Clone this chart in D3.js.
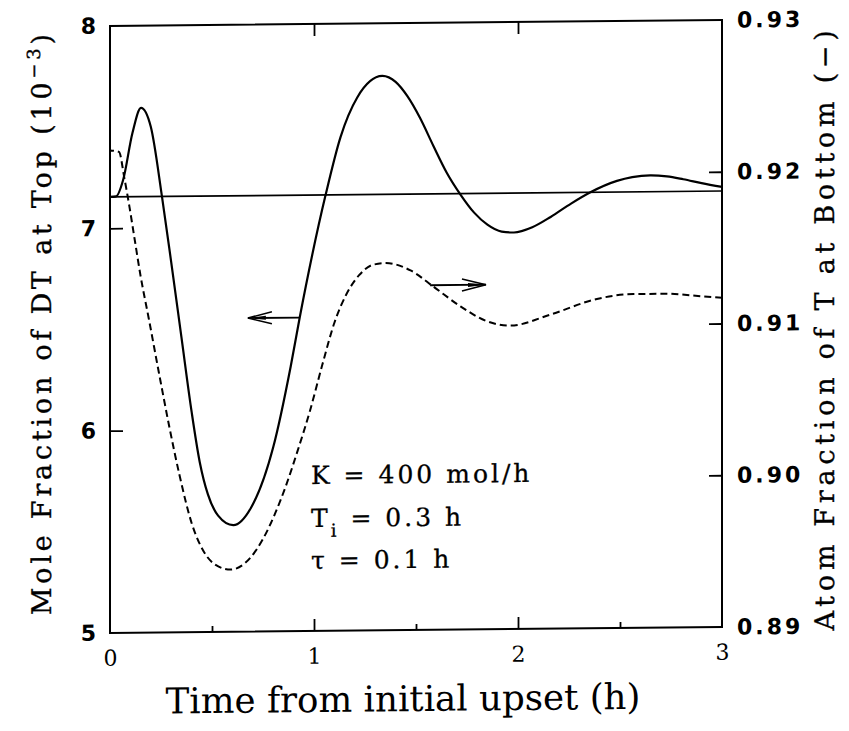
<!DOCTYPE html>
<html><head><meta charset="utf-8">
<script src="https://cdn.jsdelivr.net/npm/d3@7"></script>
<style>body{margin:0;background:#fff}</style>
</head><body><svg id="c" width="849" height="731"></svg>
<script>
// ---- data ----
// solid curve: mole fraction of DT at top (10^-3), left axis
const timeTop = [0, 0.03, 0.064, 0.11, 0.152, 0.20, 0.255, 0.30, 0.35, 0.40, 0.44, 0.48, 0.53, 0.605, 0.69, 0.80, 0.886, 0.93, 1.057, 1.13, 1.212, 1.335, 1.40, 1.457, 1.52, 1.586, 1.65, 1.718, 1.785, 1.85, 1.92, 1.98, 2.07, 2.16, 2.26, 2.355, 2.485, 2.56, 2.648, 2.73, 2.81, 2.9, 3.0];
const dtTop = [7.155, 7.158, 7.237, 7.47, 7.594, 7.50, 7.153, 6.83, 6.46, 6.09, 5.84, 5.68, 5.575, 5.527, 5.61, 5.91, 6.31, 6.55, 7.155, 7.44, 7.635, 7.74, 7.71, 7.64, 7.53, 7.39, 7.26, 7.15, 7.06, 7.00, 6.965, 6.96, 6.985, 7.035, 7.10, 7.155, 7.21, 7.228, 7.236, 7.23, 7.215, 7.195, 7.175];
// dashed curve: atom fraction of T at bottom, right axis (first two points are the initial step)
const timeBottom = [0, 0, 0.044, 0.07, 0.095, 0.12, 0.15, 0.19, 0.24, 0.29, 0.34, 0.40, 0.46, 0.52, 0.592, 0.69, 0.75, 0.804, 0.86, 0.92, 0.98, 1.04, 1.10, 1.16, 1.22, 1.29, 1.351, 1.473, 1.587, 1.718, 1.848, 1.963, 2.159, 2.387, 2.566, 2.713, 2.909, 3.0];
const tBottom = [0.9187, 0.9218, 0.9217, 0.9200, 0.9181, 0.9160, 0.9135, 0.9107, 0.9071, 0.9036, 0.9004, 0.8972, 0.8953, 0.8944, 0.8941, 0.8949, 0.8961, 0.8976, 0.8995, 0.9019, 0.9045, 0.9075, 0.9103, 0.9122, 0.9134, 0.9141, 0.9142, 0.9137, 0.9126, 0.9113, 0.9103, 0.9100, 0.9107, 0.9117, 0.9120, 0.9120, 0.9118, 0.9117];
// initial steady-state reference line (left axis)
const initialLevel = 7.155;
// tick values and labels
const xTickLabels = [0, 1, 2, 3];
const xMajorInner = [1, 2];
const xMinorInner = [0.5, 1.5, 2.5];
const leftTickLabels = [5, 6, 7, 8];
const leftInner = [6, 7];
const rightTickLabels = [0.89, 0.90, 0.91, 0.92, 0.93];
const rightInner = [0.90, 0.91, 0.92];
// arrows pointing to the axis of each curve (time from, time to, value)
const arrowLeft = [0.93, 0.676, 6.55];
const arrowRight = [1.569, 1.843, 0.91271];
const noteLines = ["K = 400 mol/h", "T|i| = 0.3 h", "\u03C4 = 0.1 h"];

// ---- drawing ----
const W = 849, H = 731;
const m = {l: 110, r: 722, t: 26, b: 633};
const x = d3.scaleLinear().domain([0, 3]).range([m.l, m.r]);
const yL = d3.scaleLinear().domain([5, 8]).range([m.b, m.t]);
const yR = d3.scaleLinear().domain([0.89, 0.93]).range([m.b, m.t]);

const svg = d3.select('#c');
svg.append('rect').attr('width', W).attr('height', H).attr('fill', '#fff');
const g = svg.append('g')
  .attr('transform', `translate(${m.l},0) skewY(-0.56) translate(${-m.l},0)`);

function fit(sel, w) {
  const l = sel.node().getComputedTextLength();
  const fs = parseFloat(sel.attr('font-size'));
  sel.attr('font-size', fs * w / l);
}
function fitSpacing(sel, w) {
  sel.style('letter-spacing', '0px');
  const l = sel.node().getComputedTextLength();
  const n = sel.node().textContent.length;
  sel.style('letter-spacing', ((w - l) / n) + 'px');
}

// inner ticks
function ticks(axis, tr, size) {
  const a = g.append('g').attr('transform', tr).call(axis.tickSize(size).tickFormat(''));
  a.select('.domain').remove();
  a.selectAll('line').attr('stroke', '#000').attr('stroke-width', 1.8);
}
ticks(d3.axisBottom(x).tickValues(xMajorInner), `translate(0,${m.b})`, -12);
ticks(d3.axisBottom(x).tickValues(xMinorInner), `translate(0,${m.b})`, -6);
ticks(d3.axisTop(x).tickValues(xMajorInner), `translate(0,${m.t})`, -12);
ticks(d3.axisLeft(yL).tickValues(leftInner), `translate(${m.l},0)`, -13);
ticks(d3.axisRight(yR).tickValues(rightInner), `translate(${m.r},0)`, -13);

// tick labels
function labels(axis, tr, pad, font) {
  const a = g.append('g').attr('transform', tr).call(axis.tickSize(0).tickPadding(pad));
  a.select('.domain').remove();
  a.selectAll('text').attr('font-family', font.family).attr('font-size', font.size)
    .attr('font-weight', font.weight).attr('fill', '#000')
    .style('letter-spacing', font.ls || '0px');
  return a;
}
labels(d3.axisLeft(yL).tickValues(leftTickLabels).tickFormat(d3.format('d')),
  `translate(${m.l},0)`, 14, {family: 'DejaVu Sans', size: 22, weight: 'bold'});
labels(d3.axisRight(yR).tickValues(rightTickLabels).tickFormat(d3.format('.2f')),
  `translate(${m.r},0)`, 15, {family: 'DejaVu Sans', size: 22, weight: 'bold', ls: '3px'});
labels(d3.axisBottom(x).tickValues(xTickLabels).tickFormat(d3.format('d')),
  `translate(0,${m.b})`, 17, {family: 'DejaVu Serif', size: 22, weight: 'normal'});

// frame
g.append('rect').attr('x', m.l).attr('y', m.t).attr('width', m.r - m.l).attr('height', m.b - m.t)
  .attr('fill', 'none').attr('stroke', '#000').attr('stroke-width', 2);

// reference line
g.append('line').attr('x1', x(0)).attr('x2', x(3)).attr('y1', yL(initialLevel)).attr('y2', yL(initialLevel))
  .attr('stroke', '#000').attr('stroke-width', 1.7);

// curves
const solid = d3.line().x((d, i) => x(timeTop[i])).y(d => yL(d)).curve(d3.curveMonotoneX);
g.append('path').attr('d', solid(dtTop)).attr('fill', 'none').attr('stroke', '#000').attr('stroke-width', 2.2);

const stepPart = d3.line().x((d, i) => x(timeBottom[i])).y(d => yR(d));
const curvePart = d3.line().x((d, i) => x(timeBottom[i + 1])).y(d => yR(d)).curve(d3.curveMonotoneX);
g.append('path').attr('d', stepPart(tBottom.slice(0, 2)) + curvePart(tBottom.slice(1)).replace(/^M/, 'L'))
  .attr('fill', 'none').attr('stroke', '#000').attr('stroke-width', 2)
  .attr('stroke-dasharray', '7,4');

// arrows
function arrow(a, ys) {
  const x0 = x(a[0]), x1 = x(a[1]), yy = ys(a[2]);
  const dir = x1 > x0 ? 1 : -1;
  g.append('line').attr('x1', x0).attr('x2', x1).attr('y1', yy).attr('y2', yy)
    .attr('stroke', '#000').attr('stroke-width', 1.8);
  g.append('path').attr('d', `M${x1 - dir * 24},${yy - 6}L${x1},${yy}L${x1 - dir * 24},${yy + 6}`)
    .attr('fill', 'none').attr('stroke', '#000').attr('stroke-width', 1.6);
  g.append('path').attr('d', `M${x1 - dir * 18},${yy - 2}L${x1},${yy}L${x1 - dir * 18},${yy + 2}Z`)
    .attr('fill', '#000');
}
arrow(arrowLeft, yL);
arrow(arrowRight, yR);

// parameter notes
const noteFont = 'DejaVu Serif';
noteLines.forEach((s, i) => {
  const t = g.append('text').attr('x', 311).attr('y', [486, 529, 571][i])
    .attr('font-family', noteFont).attr('font-size', 25).attr('fill', '#000')
    .attr('stroke', '#000').attr('stroke-width', 0.3)
    .style('letter-spacing', '3px').attr('xml:space', 'preserve');
  const parts = s.split('|');
  if (parts.length === 3) {
    t.append('tspan').text(parts[0]);
    t.append('tspan').attr('font-size', 18).attr('dy', 10).text(parts[1]);
    t.append('tspan').attr('dy', -10).text(parts[2]);
  } else t.text(s);
});

// axis titles
const xt = g.append('text').attr('x', 403).attr('y', 714).attr('text-anchor', 'middle')
  .attr('font-family', 'DejaVu Serif').attr('font-size', 26).attr('fill', '#000')
  .text('Time from initial upset (h)');
fit(xt, 475);

const lt = g.append('text').attr('transform', 'translate(51,322) rotate(-90)').attr('text-anchor', 'middle')
  .attr('font-family', 'DejaVu Serif').attr('font-size', 27).attr('fill', '#000')
  .attr('stroke', '#000').attr('stroke-width', 0.35);
lt.append('tspan').text('Mole Fraction of DT at Top (10');
lt.append('tspan').attr('font-size', 18).attr('dy', -11).text('\u22123');
lt.append('tspan').attr('dy', 11).text(')');
fitSpacing(lt, 585);

const rt = g.append('text').attr('transform', 'translate(834,335) rotate(-90)').attr('text-anchor', 'middle')
  .attr('font-family', 'DejaVu Serif').attr('font-size', 27).attr('fill', '#000')
  .attr('stroke', '#000').attr('stroke-width', 0.35)
  .text('Atom Fraction of T at Bottom (\u2212)');
fitSpacing(rt, 605);
</script></body></html>
